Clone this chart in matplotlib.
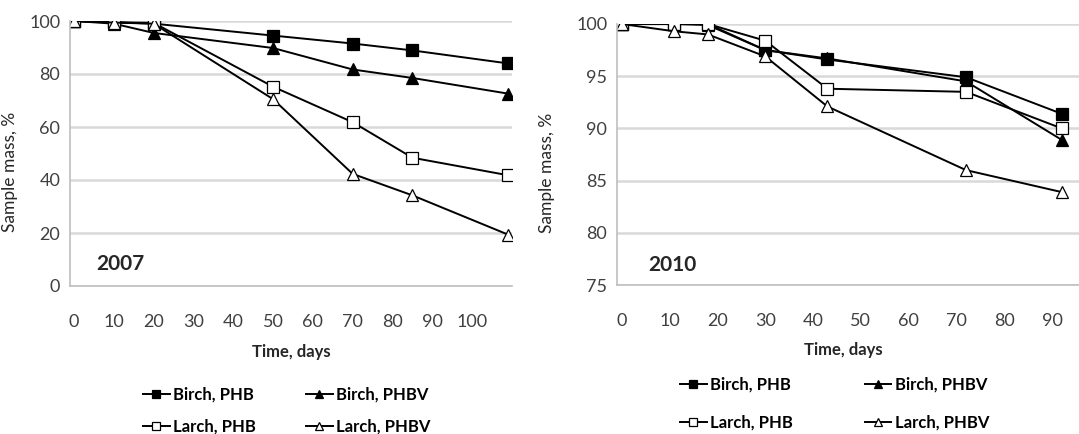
import matplotlib.pyplot as plt

plt.rcParams['font.family'] = ['Lato', 'DejaVu Sans']

# 2007 panel
days_07 = [0, 10, 20, 50, 70, 85, 109]
birch_phb_07 = [100, 99.5, 99, 94.5, 91.5, 88.9, 84]
birch_phbv_07 = [100, 99, 95.5, 89.8, 81.7, 78.5, 72.6]
larch_phb_07 = [100, 99.5, 99.3, 75.2, 61.8, 48.4, 41.8]
larch_phbv_07 = [100, 99.4, 99, 70.5, 42.3, 34.2, 19.4]

# 2010 panel
days_10 = [0, 11, 18, 30, 43, 72, 92]
birch_phb_10 = [100, 100, 100, 97.5, 96.6, 94.9, 91.4]
birch_phbv_10 = [100, 100, 99.9, 97.5, 96.7, 94.5, 88.9]
larch_phb_10 = [100, 100, 100, 98.4, 93.8, 93.5, 90]
larch_phbv_10 = [100, 99.3, 99.0, 96.9, 92.1, 86, 83.9]

labels = ['Birch, PHB', 'Birch, PHBV', 'Larch, PHB', 'Larch, PHBV']
W, H = 1079, 434
fig = plt.figure(figsize=(W / 100, H / 100), dpi=100)

def px(l, b, r, t):
    return [l / W, (H - b) / H, (r - l) / W, (b - t) / H]

ax1 = fig.add_axes(px(70, 286, 512, 21))
ax2 = fig.add_axes(px(617, 285, 1100, 24))

styles = [dict(marker='s', mfc='black', ms=8),
          dict(marker='^', mfc='black', ms=8),
          dict(marker='s', mfc='white', ms=9),
          dict(marker='^', mfc='white', ms=8)]

def draw(ax, x, series, ylim, yticks, xmax, xticks, year, yx, yy):
    lines = []
    for s, lab, st in zip(series, labels, styles):
        ln, = ax.plot(x, s, color='black', lw=1.4, mec='black', mew=0.9, label=lab, **st)
        lines.append(ln)
    ax.set_ylim(*ylim)
    ax.set_yticks(yticks)
    ax.set_xlim(-1, xmax)
    ax.set_xticks(xticks)
    ax.grid(axis='y', color='#d9d9d9', lw=1.8)
    ax.set_axisbelow(True)
    for sp in ['top', 'right']:
        ax.spines[sp].set_visible(False)
    for sp in ['left', 'bottom']:
        ax.spines[sp].set_color('#bfbfbf')
        ax.spines[sp].set_linewidth(1.2)
    ax.tick_params(length=0, labelsize=13, colors='#404040', pad=7)
    ax.tick_params(axis='x', pad=20)
    ax.set_ylabel('Sample mass, %', fontsize=12.5, color='#262626')
    ax.set_xlabel('Time, days', fontsize=12, fontweight='bold', color='#262626')
    ax.text(yx, yy, year, fontsize=15, fontweight='bold', color='#262626')
    # legend rows: Birch PHB / Birch PHBV, then Larch PHB / Larch PHBV
    return [lines[0], lines[2], lines[1], lines[3]]

h1 = draw(ax1, days_07, [birch_phb_07, birch_phbv_07, larch_phb_07, larch_phbv_07],
          (0, 100), range(0, 101, 20), 110, range(0, 101, 10), '2007', 5.5, 6)
h2 = draw(ax2, days_10, [birch_phb_10, birch_phbv_10, larch_phb_10, larch_phbv_10],
          (75, 100), range(75, 101, 5), 100, range(0, 91, 10), '2010', 5.5, 76.3)

ax1.yaxis.set_label_coords(-0.118, 0.43)
ax2.yaxis.set_label_coords(-0.128, 0.43)
ax1.xaxis.set_label_coords(0.5, -0.22)
ax2.xaxis.set_label_coords(0.468, -0.22)

common = dict(ncol=2, loc='upper left', frameon=False, handlelength=1.6,
              handletextpad=0.2, borderpad=0, borderaxespad=0, markerscale=0.7,
              bbox_transform=fig.transFigure, prop={'weight': 'bold', 'size': 12})
leg1 = ax1.legend(h1, [l.get_label() for l in h1], bbox_to_anchor=(143 / W, 1 - 387 / H),
                  columnspacing=3.0, labelspacing=0.95, **common)
leg2 = ax2.legend(h2, [l.get_label() for l in h2], bbox_to_anchor=(680 / W, 1 - 377 / H),
                  columnspacing=4.3, labelspacing=1.3, **common)

fig.savefig('out.png', dpi=100)
